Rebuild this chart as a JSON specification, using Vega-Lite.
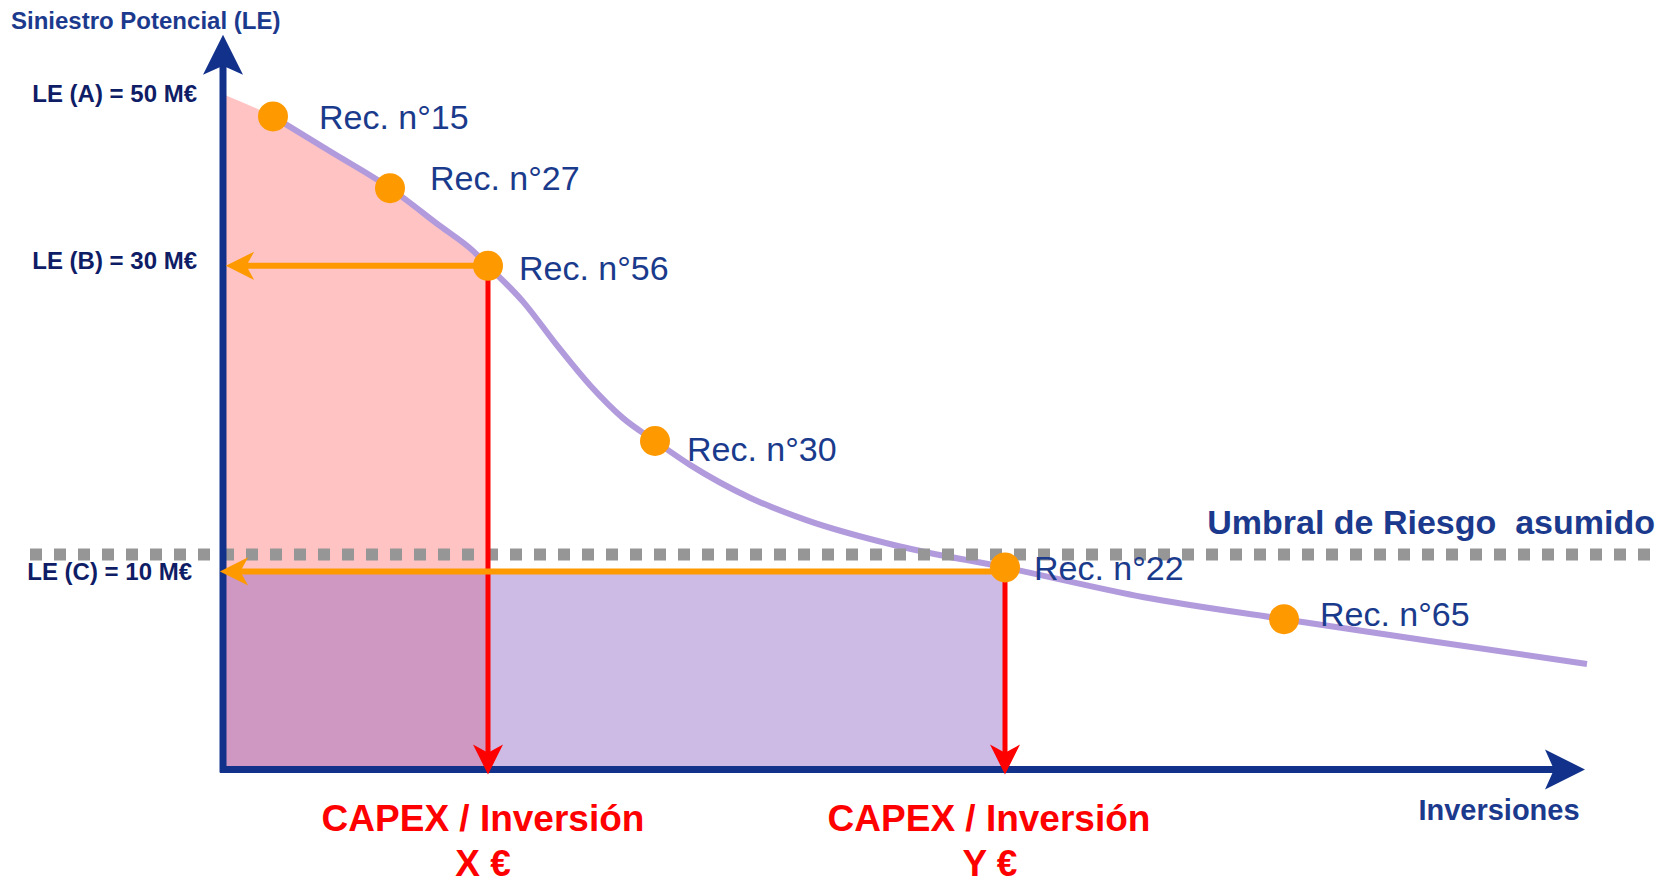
{
  "$schema": "https://vega.github.io/schema/vega-lite/v6.json",
  "width": 1661,
  "height": 883,
  "padding": 0,
  "autosize": {"type": "fit", "contains": "padding"},
  "background": "white",
  "config": {"view": {"stroke": null}, "font": "Liberation Sans"},
  "datasets": {
    "curve": [
      {"x": 50, "y": 656}, {"x": 107, "y": 621}, {"x": 167, "y": 584}, {"x": 217, "y": 546},
      {"x": 250, "y": 521}, {"x": 265, "y": 506}, {"x": 300, "y": 470}, {"x": 334, "y": 426},
      {"x": 367, "y": 386}, {"x": 400, "y": 353}, {"x": 432, "y": 330}, {"x": 467, "y": 306},
      {"x": 527, "y": 273}, {"x": 582, "y": 251}, {"x": 677, "y": 224}, {"x": 782, "y": 203},
      {"x": 921, "y": 173}, {"x": 1061, "y": 151}, {"x": 1207, "y": 129}, {"x": 1364, "y": 106}
    ],
    "pink": [
      {"x": 3, "y": 677}, {"x": 50, "y": 656}, {"x": 107, "y": 621}, {"x": 167, "y": 584},
      {"x": 217, "y": 546}, {"x": 250, "y": 521}, {"x": 265, "y": 506}
    ],
    "purple": [{"x": 3, "x2": 782, "y": 0, "y2": 197}],
    "threshold": [{"x": -193, "x2": 1432, "y": 216}],
    "axes": [
      {"x": 0, "x2": 0, "y": -3, "y2": 722},
      {"x": -3, "x2": 1345, "y": 0, "y2": 0}
    ],
    "redLines": [
      {"x": 265, "y": 506, "y2": 14},
      {"x": 782, "y": 203, "y2": 14}
    ],
    "orangeLines": [
      {"y": 506, "x": 265, "x2": 16},
      {"y": 199, "x": 782, "x2": 10}
    ],
    "arrowUp": [{"x": 0, "y": 718}],
    "arrowRight": [{"x": 1342, "y": 0}],
    "arrowDown": [{"x": 265, "y": 10}, {"x": 782, "y": 10}],
    "arrowLeft": [{"x": 17, "y": 506}, {"x": 11, "y": 199}],
    "recs": [
      {"x": 50, "y": 656, "lx": 96, "ly": 653, "label": "Rec. n°15"},
      {"x": 167, "y": 584, "lx": 207, "ly": 592, "label": "Rec. n°27"},
      {"x": 265, "y": 506, "lx": 296, "ly": 502, "label": "Rec. n°56"},
      {"x": 432, "y": 330, "lx": 464, "ly": 320, "label": "Rec. n°30"},
      {"x": 782, "y": 203, "lx": 811, "ly": 200, "label": "Rec. n°22"},
      {"x": 1061, "y": 151, "lx": 1097, "ly": 154, "label": "Rec. n°65"}
    ],
    "leLabels": [
      {"x": -26, "y": 678, "label": "LE (A) = 50 M€"},
      {"x": -26, "y": 510, "label": "LE (B) = 30 M€"},
      {"x": -31, "y": 197, "label": "LE (C) = 10 M€"}
    ],
    "capex": [
      {"x": 260, "y": -51, "label": "CAPEX / Inversión"},
      {"x": 260, "y": -96, "label": "X €"},
      {"x": 766, "y": -51, "label": "CAPEX / Inversión"},
      {"x": 767, "y": -96, "label": "Y €"}
    ],
    "title": [{"x": -212, "y": 751, "label": "Siniestro Potencial (LE)"}],
    "xTitle": [{"x": 1276, "y": -42, "label": "Inversiones"}],
    "umbral": [{"x": 1432, "y": 247, "label": "Umbral de Riesgo \u00a0asumido"}]
  },
  "layer": [
    {
      "data": {"name": "pink"},
      "mark": {"type": "area", "color": "#ff5a5a", "opacity": 0.36, "interpolate": "monotone"},
      "encoding": {
        "x": {"field": "x", "type": "quantitative", "scale": {"domain": [-223, 1438], "nice": false, "zero": false}, "axis": null},
        "y": {"field": "y", "type": "quantitative", "scale": {"domain": [-110, 773], "nice": false, "zero": false}, "axis": null},
        "y2": {"datum": 0}
      }
    },
    {
      "data": {"name": "purple"},
      "mark": {"type": "rect", "color": "#8a5cc0", "opacity": 0.42},
      "encoding": {
        "x": {"field": "x", "type": "quantitative"},
        "x2": {"field": "x2"},
        "y": {"field": "y", "type": "quantitative"},
        "y2": {"field": "y2"}
      }
    },
    {
      "data": {"name": "curve"},
      "mark": {"type": "line", "color": "#b29bdc", "strokeWidth": 6, "interpolate": "monotone"},
      "encoding": {
        "x": {"field": "x", "type": "quantitative"},
        "y": {"field": "y", "type": "quantitative"}
      }
    },
    {
      "data": {"name": "threshold"},
      "mark": {"type": "rule", "color": "#969696", "strokeWidth": 12, "strokeDash": [12, 12], "strokeCap": "butt"},
      "encoding": {
        "x": {"field": "x", "type": "quantitative"},
        "x2": {"field": "x2"},
        "y": {"field": "y", "type": "quantitative"}
      }
    },
    {
      "data": {"name": "redLines"},
      "mark": {"type": "rule", "color": "#ff0000", "strokeWidth": 5},
      "encoding": {
        "x": {"field": "x", "type": "quantitative"},
        "y": {"field": "y", "type": "quantitative"},
        "y2": {"field": "y2"}
      }
    },
    {
      "data": {"name": "orangeLines"},
      "mark": {"type": "rule", "color": "#ff9900", "strokeWidth": 6},
      "encoding": {
        "x": {"field": "x", "type": "quantitative"},
        "x2": {"field": "x2"},
        "y": {"field": "y", "type": "quantitative"}
      }
    },
    {
      "data": {"name": "axes"},
      "mark": {"type": "rule", "color": "#12318a", "strokeWidth": 7},
      "encoding": {
        "x": {"field": "x", "type": "quantitative"},
        "x2": {"field": "x2"},
        "y": {"field": "y", "type": "quantitative"},
        "y2": {"field": "y2"}
      }
    },
    {
      "data": {"name": "arrowUp"},
      "mark": {"type": "point", "shape": "M0,-1L1,1L0,0.55L-1,1Z", "filled": true, "color": "#12318a", "opacity": 1, "size": 1600, "angle": 0},
      "encoding": {
        "x": {"field": "x", "type": "quantitative"},
        "y": {"field": "y", "type": "quantitative"}
      }
    },
    {
      "data": {"name": "arrowRight"},
      "mark": {"type": "point", "shape": "M0,-1L1,1L0,0.55L-1,1Z", "filled": true, "color": "#12318a", "opacity": 1, "size": 1600, "angle": 90},
      "encoding": {
        "x": {"field": "x", "type": "quantitative"},
        "y": {"field": "y", "type": "quantitative"}
      }
    },
    {
      "data": {"name": "arrowDown"},
      "mark": {"type": "point", "shape": "M0,-1L1,1L0,0.45L-1,1Z", "filled": true, "color": "#ff0000", "opacity": 1, "size": 900, "angle": 180},
      "encoding": {
        "x": {"field": "x", "type": "quantitative"},
        "y": {"field": "y", "type": "quantitative"}
      }
    },
    {
      "data": {"name": "arrowLeft"},
      "mark": {"type": "point", "shape": "M0,-1L1,1L0,0.45L-1,1Z", "filled": true, "color": "#ff9900", "opacity": 1, "size": 800, "angle": 270},
      "encoding": {
        "x": {"field": "x", "type": "quantitative"},
        "y": {"field": "y", "type": "quantitative"}
      }
    },
    {
      "data": {"name": "recs"},
      "mark": {"type": "point", "shape": "circle", "filled": true, "color": "#ff9900", "opacity": 1, "size": 900},
      "encoding": {
        "x": {"field": "x", "type": "quantitative"},
        "y": {"field": "y", "type": "quantitative"}
      }
    },
    {
      "data": {"name": "recs"},
      "mark": {"type": "text", "align": "left", "baseline": "middle", "fontSize": 34, "color": "#1a3a8c", "font": "Liberation Sans"},
      "encoding": {
        "x": {"field": "lx", "type": "quantitative"},
        "y": {"field": "ly", "type": "quantitative"},
        "text": {"field": "label"}
      }
    },
    {
      "data": {"name": "leLabels"},
      "mark": {"type": "text", "align": "right", "baseline": "middle", "fontSize": 24, "fontWeight": "bold", "color": "#0f1d66", "font": "Liberation Sans"},
      "encoding": {
        "x": {"field": "x", "type": "quantitative"},
        "y": {"field": "y", "type": "quantitative"},
        "text": {"field": "label"}
      }
    },
    {
      "data": {"name": "capex"},
      "mark": {"type": "text", "align": "center", "baseline": "middle", "fontSize": 37, "fontWeight": "bold", "color": "#ff0000", "font": "Liberation Sans"},
      "encoding": {
        "x": {"field": "x", "type": "quantitative"},
        "y": {"field": "y", "type": "quantitative"},
        "text": {"field": "label"}
      }
    },
    {
      "data": {"name": "title"},
      "mark": {"type": "text", "align": "left", "baseline": "middle", "fontSize": 24, "fontWeight": "bold", "color": "#1c3a8d", "font": "Liberation Sans"},
      "encoding": {
        "x": {"field": "x", "type": "quantitative"},
        "y": {"field": "y", "type": "quantitative"},
        "text": {"field": "label"}
      }
    },
    {
      "data": {"name": "xTitle"},
      "mark": {"type": "text", "align": "center", "baseline": "middle", "fontSize": 29, "fontWeight": "bold", "color": "#1c3a8d", "font": "Liberation Sans"},
      "encoding": {
        "x": {"field": "x", "type": "quantitative"},
        "y": {"field": "y", "type": "quantitative"},
        "text": {"field": "label"}
      }
    },
    {
      "data": {"name": "umbral"},
      "mark": {"type": "text", "align": "right", "baseline": "middle", "fontSize": 34, "fontWeight": "bold", "color": "#1c3a8d", "font": "Liberation Sans"},
      "encoding": {
        "x": {"field": "x", "type": "quantitative"},
        "y": {"field": "y", "type": "quantitative"},
        "text": {"field": "label"}
      }
    }
  ]
}
